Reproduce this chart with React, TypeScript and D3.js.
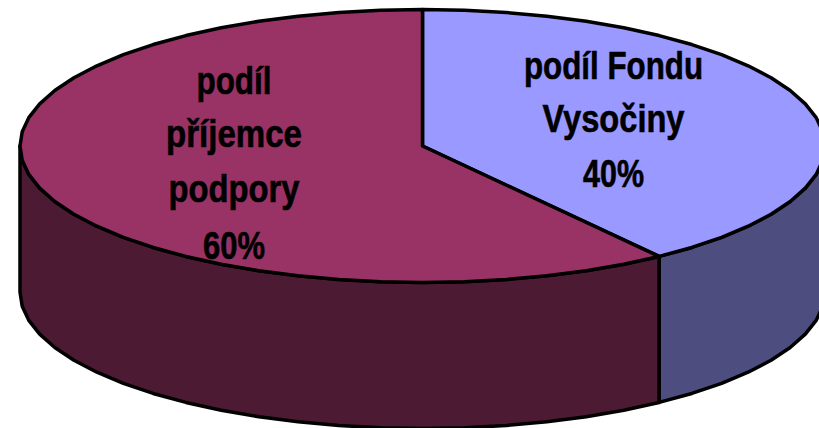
import * as d3 from "d3";

const categories = ["podíl Fondu Vysočiny", "podíl příjemce podpory"];
const shares = [40, 60];
const topColors = ["#9999ff", "#993366"];
const sideColors = ["#4d4d80", "#4d1a33"];
const labelLines = [
  ["podíl Fondu", "Vysočiny", "40%"],
  ["podíl", "příjemce", "podpory", "60%"],
];
const lineWidths = [
  [179, 142, 61],
  [75, 136, 131, 62],
];
const lineBaselines = [
  [79, 132, 187],
  [94, 147, 202, 259],
];
const labelCenters = [613.5, 234];

const W = 819, H = 428;
const cx = 422.5, cy = 146, rx = 402.5, ry = 136.5, depth = 146;
const STEP = Math.PI / 30;

const pie = d3.pie<number>().sort(null).startAngle(0).endAngle(2 * Math.PI);
const sx = d3.scaleLinear().domain([-1, 1]).range([cx - rx, cx + rx]);
const sy = d3.scaleLinear().domain([-1, 1]).range([cy - ry, cy + ry]);
const px = (a: number) => sx(Math.sin(a));
const py = (a: number, dz = 0) => sy(-Math.cos(a)) + dz;

function samples(a0: number, a1: number): number[] {
  const n = Math.max(1, Math.ceil((a1 - a0) / STEP));
  return d3.range(n + 1).map((i) => a0 + ((a1 - a0) * i) / n);
}

const line = d3.line<[number, number]>();

function topPath(a0: number, a1: number) {
  const pts = samples(a0, a1).map((a) => [px(a), py(a)] as [number, number]);
  return line([[cx, cy], ...pts]) + "Z";
}

function sidePath(a0: number, a1: number) {
  const s = Math.max(a0, Math.PI / 2);
  const e = Math.min(a1, (3 * Math.PI) / 2);
  if (e <= s) return null;
  const ang = samples(s, e);
  const upper = ang.map((a) => [px(a), py(a)] as [number, number]);
  const lower = ang.slice().reverse().map((a) => [px(a), py(a, depth)] as [number, number]);
  return line([...upper, ...lower]) + "Z";
}

export default function App() {
  const arcs = pie(shares);
  return (
    <svg
      width={W}
      height={H}
      viewBox={`0 0 ${W} ${H}`}
      style={{ position: "absolute", left: 0, top: 0, background: "#fff" }}
    >
      {arcs.map((d, i) => {
        const p = sidePath(d.startAngle, d.endAngle);
        return p ? (
          <path key={`side-${i}`} d={p} fill={sideColors[i]} stroke="#000" strokeWidth={3.5} strokeLinejoin="round" />
        ) : null;
      })}
      {arcs.map((d, i) => (
        <path
          key={categories[i]}
          d={topPath(d.startAngle, d.endAngle)}
          fill={topColors[i]}
          stroke="#000"
          strokeWidth={3.5}
          strokeLinejoin="round"
        />
      ))}
      {labelLines.map((lines, i) =>
        lines.map((t, j) => (
          <text
            key={t}
            x={labelCenters[i]}
            y={lineBaselines[i][j]}
            textAnchor="middle"
            textLength={lineWidths[i][j]}
            lengthAdjust="spacingAndGlyphs"
            fontFamily="'Liberation Sans', Arial, sans-serif"
            fontWeight="bold"
            fontSize={39}
            stroke="#000"
            strokeWidth={0.6}
            fill="#000"
          >
            {t}
          </text>
        ))
      )}
    </svg>
  );
}
